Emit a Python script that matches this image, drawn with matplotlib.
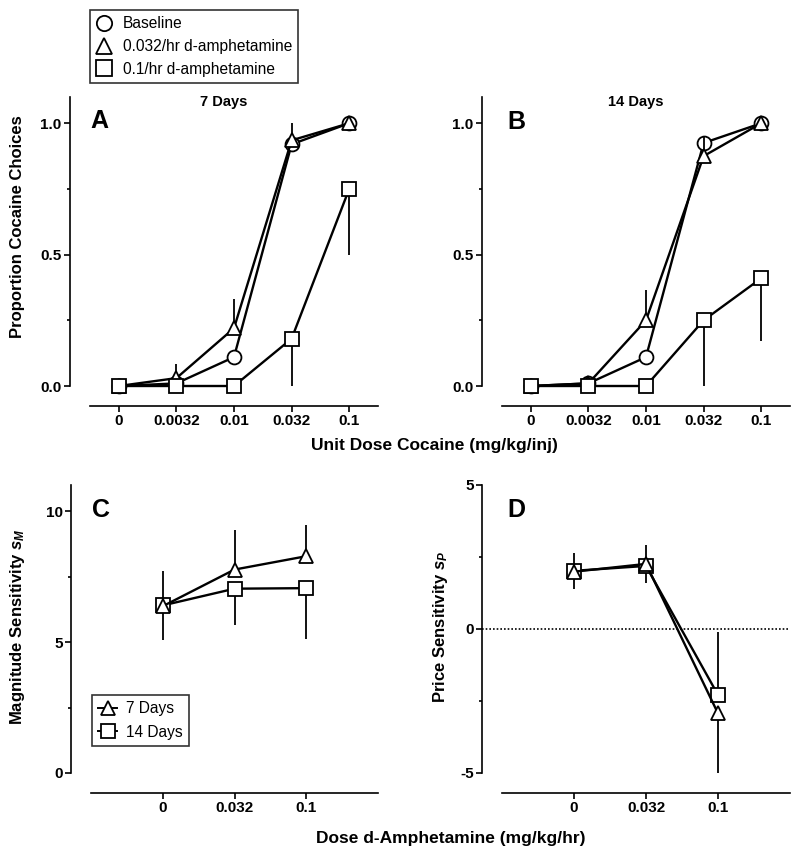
import matplotlib
matplotlib.use("Agg")
import matplotlib.pyplot as plt
from matplotlib.lines import Line2D
import numpy as np

plt.rcParams['font.family'] = ['Liberation Sans', 'DejaVu Sans']
plt.rcParams['font.weight'] = 'bold'
plt.rcParams['mathtext.fontset'] = 'custom'
plt.rcParams['mathtext.it'] = 'Liberation Sans:italic:bold'
plt.rcParams['mathtext.rm'] = 'Liberation Sans:bold'
plt.rcParams['mathtext.bf'] = 'Liberation Sans:bold'

# ---------------- data ----------------
cocaine_doses = ["0", "0.0032", "0.01", "0.032", "0.1"]
amph_doses = ["0", "0.032", "0.1"]

# Panel A (7 days)
A_baseline = [0.0, 0.01, 0.11, 0.92, 1.0]
A_amp032 = [0.0, 0.03, 0.22, 0.935, 1.0]
A_amp032_err_up = [0.0, 0.055, 0.11, 0.065, 0.0]
A_amp1 = [0.0, 0.0, 0.0, 0.18, 0.75]
A_amp1_err_down = [0.0, 0.0, 0.0, 0.18, 0.25]

# Panel B (14 days)
B_baseline = [0.0, 0.01, 0.11, 0.925, 1.0]
B_amp032 = [0.0, 0.01, 0.25, 0.875, 1.0]
B_amp032_err_up = [0.0, 0.0, 0.115, 0.075, 0.0]
B_amp1 = [0.0, 0.0, 0.0, 0.25, 0.41]
B_amp1_err_down = [0.0, 0.0, 0.0, 0.25, 0.24]

# Panel C (magnitude sensitivity)
C_7days = [6.37, 7.77, 8.28]
C_7days_err_up = [1.35, 1.5, 1.19]
C_14days = [6.4, 7.04, 7.06]
C_14days_err_down = [1.32, 1.37, 1.96]

# Panel D (price sensitivity)
D_7days = [1.99, 2.26, -2.93]
D_7days_err_low = [0.0, 0.0, 2.06]
D_7days_err_high = [0.66, 0.66, 0.0]
D_14days = [2.02, 2.19, -2.29]
D_14days_err_low = [0.64, 0.6, 0.0]
D_14days_err_high = [0.0, 0.0, 2.2]

# ---------------- figure ----------------
W, H = 800, 858
fig = plt.figure(figsize=(W / 100, H / 100), dpi=100)


def px_axes(l, r, top, bottom):
    return fig.add_axes([l / W, 1 - bottom / H, (r - l) / W, (bottom - top) / H])


def style(ax):
    for s in ['top', 'right']:
        ax.spines[s].set_visible(False)
    for s in ['left', 'bottom']:
        ax.spines[s].set_position(('outward', 14.4))
        ax.spines[s].set_linewidth(1.2)
    ax.tick_params(which='major', length=4, width=1.2, labelsize=11,
                   direction='out', pad=2)
    ax.tick_params(which='minor', length=2.5, width=1.2)
    ax.patch.set_visible(False)


def series(ax, x, y, low, high, marker, z):
    eb = ax.errorbar(x, y, yerr=[low, high], color='black', lw=1.7,
                     marker=marker, ms=10, mfc='white', mec='black', mew=1.3,
                     elinewidth=1.3, capsize=0, zorder=z)
    eb.lines[0].set_clip_on(False)
    for coll in eb.lines[2]:
        coll.set_clip_on(False)
    return eb


def zeros(n):
    return [0.0] * n


axA = px_axes(90, 378, 97, 386)
axB = px_axes(502, 790, 97, 386)
axC = px_axes(91, 378, 485, 773)
axD = px_axes(502, 790, 485, 773)

# Panels A and B
for ax, base, a032, a032e, a1, a1e in [
        (axA, A_baseline, A_amp032, A_amp032_err_up, A_amp1, A_amp1_err_down),
        (axB, B_baseline, B_amp032, B_amp032_err_up, B_amp1, B_amp1_err_down)]:
    style(ax)
    x = np.arange(len(cocaine_doses))
    n = len(x)
    series(ax, x, base, zeros(n), zeros(n), 'o', 3)
    series(ax, x, a032, zeros(n), a032e, '^', 4)
    series(ax, x, a1, a1e, zeros(n), 's', 5)
    ax.set_xlim(-0.5, 4.5)
    ax.set_ylim(0, 1.1)
    ax.set_xticks(x)
    ax.set_xticklabels(cocaine_doses)
    ax.set_yticks([0, 0.5, 1.0])
    ax.set_yticklabels(["0.0", "0.5", "1.0"])
    ax.set_yticks([0.25, 0.75], minor=True)

# Panel C
style(axC)
xc = np.arange(len(amph_doses))
nc = len(xc)
series(axC, xc, C_14days, C_14days_err_down, zeros(nc), 's', 3)
series(axC, xc, C_7days, zeros(nc), C_7days_err_up, '^', 4)
axC.set_xlim(-1, 3)
axC.set_ylim(0, 11)
axC.set_xticks(xc)
axC.set_xticklabels(amph_doses)
axC.set_yticks([0, 5, 10])
axC.set_yticks([2.5, 7.5], minor=True)

# Panel D
style(axD)
series(axD, xc, D_14days, D_14days_err_low, D_14days_err_high, 's', 3)
series(axD, xc, D_7days, D_7days_err_low, D_7days_err_high, '^', 4)
axD.axhline(0, xmin=-20 / 288, xmax=1, color='black', lw=1.2,
            ls=(0, (1, 1.2)), clip_on=False, zorder=1)
axD.set_xlim(-1, 3)
axD.set_ylim(-5, 5)
axD.set_xticks(xc)
axD.set_xticklabels(amph_doses)
axD.set_yticks([-5, 0, 5])
axD.set_yticklabels(["-5", "0", "5"])
axD.set_yticks([-2.5, 2.5], minor=True)


def ftext(x, y, s, **kw):
    fig.text(x / W, 1 - y / H, s, **kw)


# panel letters
for lx, ly, letter in [(90, 121, 'A'), (507, 122, 'B'), (92, 510, 'C'), (507, 510, 'D')]:
    ftext(lx, ly, letter, fontsize=18, ha='left', va='center')

# titles
ftext(224, 102, '7 Days', fontsize=10.5, ha='center', va='center')
ftext(636, 102, '14 Days', fontsize=10.5, ha='center', va='center')

# axis labels
ftext(18, 227, 'Proportion Cocaine Choices', rotation=90, fontsize=12,
      ha='center', va='center')
ftext(18, 627, r'Magnitude Sensitivity $s_M$', rotation=90, fontsize=12,
      ha='center', va='center')
ftext(441, 627, r'Price Sensitivity $s_P$', rotation=90, fontsize=12,
      ha='center', va='center')
ftext(434, 445, 'Unit Dose Cocaine (mg/kg/inj)', fontsize=12.5,
      ha='center', va='center')
ftext(451, 838, 'Dose d-Amphetamine (mg/kg/hr)', fontsize=12.5,
      ha='center', va='center')

# top legend
mk = dict(ls='none', mfc='white', mec='black', mew=1.3, ms=11)
top_handles = [Line2D([], [], marker='o', **mk),
               Line2D([], [], marker='^', **mk),
               Line2D([], [], marker='s', **mk)]
top_labels = ['Baseline', '0.032/hr d-amphetamine', '0.1/hr d-amphetamine']
leg = fig.legend(top_handles, top_labels, loc='upper left',
                 bbox_to_anchor=(90 / W, 1 - 10 / H), frameon=True,
                 fancybox=False, edgecolor='black', handlelength=1.0,
                 handletextpad=0.7, borderpad=0.4, labelspacing=0.5,
                 borderaxespad=0, prop={'weight': 'normal', 'size': 11.2})
leg.get_frame().set_linewidth(1.2)

# panel C legend
mk2 = dict(color='black', lw=1.4, mfc='white', mec='black', mew=1.3, ms=10)
c_handles = [Line2D([], [], marker='^', **mk2), Line2D([], [], marker='s', **mk2)]
legC = fig.legend(c_handles, ['7 Days', '14 Days'], loc='upper left',
                  bbox_to_anchor=(92 / W, 1 - 695 / H), frameon=True,
                  fancybox=False, edgecolor='black', handlelength=1.2,
                  handletextpad=0.6, borderpad=0.4, labelspacing=0.55,
                  borderaxespad=0, prop={'weight': 'normal', 'size': 11.2})
legC.get_frame().set_linewidth(1.2)

fig.savefig('out.png', dpi=100)
